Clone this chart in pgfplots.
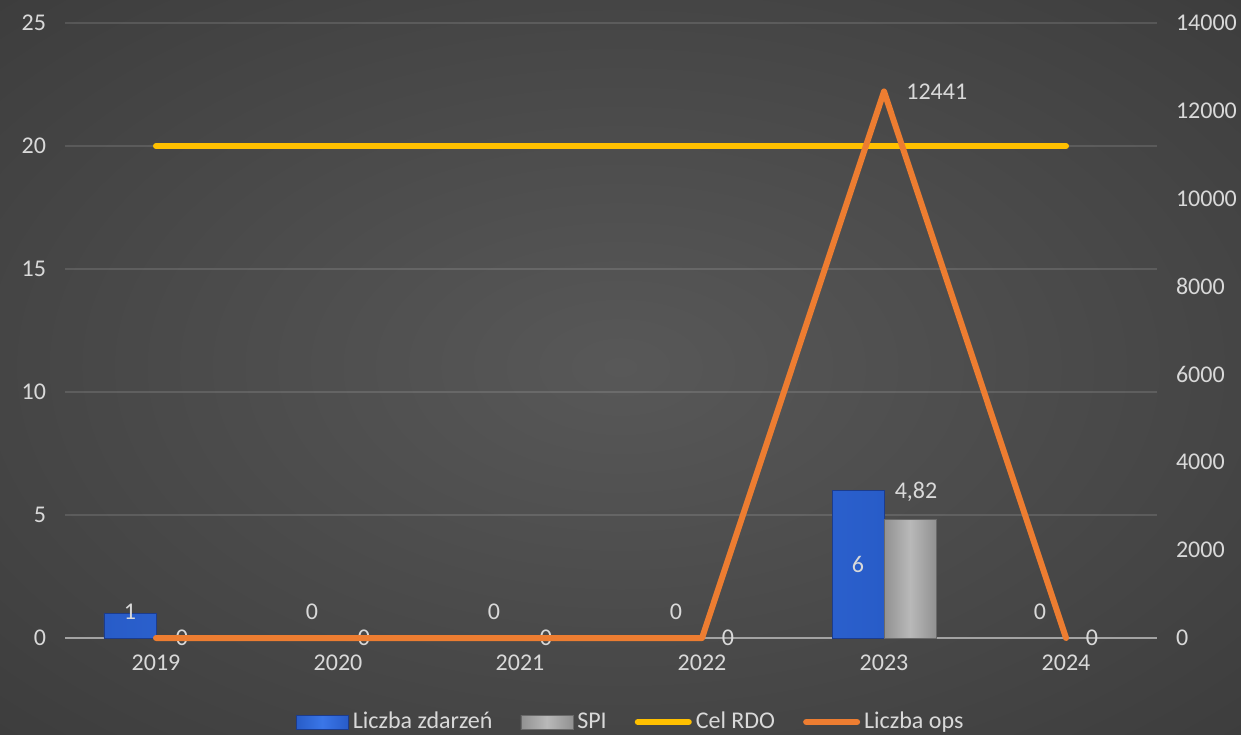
\documentclass[border=0pt]{standalone}
\usepackage{pgfplots}
\pgfplotsset{compat=1.18}
\usepackage{fontspec}
\setmainfont{Carlito}
\definecolor{bgin}{RGB}{88,88,88}
\definecolor{bgout}{RGB}{34,34,34}
\definecolor{lbl}{RGB}{217,217,217}
\definecolor{barblue}{RGB}{58,118,232}
\definecolor{barblueE}{RGB}{40,92,200}
\definecolor{barblueD}{RGB}{28,60,140}
\definecolor{bargrey}{RGB}{185,185,185}
\definecolor{bargreyE}{RGB}{145,145,145}
\definecolor{bargreyD}{RGB}{105,105,105}
\definecolor{rdo}{RGB}{255,192,0}
\definecolor{ops}{RGB}{237,125,49}
\pgfdeclareradialshading{bgshade}{\pgfpoint{0bp}{0bp}}{color(0bp)=(bgin); color(71bp)=(bgout)}
\begin{document}
\begin{tikzpicture}
\shade[shading=bgshade] (0pt,0pt) rectangle (620.5pt,367pt);
\begin{axis}[
  scale only axis, width=546pt, height=307.5pt,
  at={(32.5pt,48pt)}, anchor=south west,
  xmin=-0.5, xmax=5.5, ymin=0, ymax=25,
  xtick={0,...,5}, xticklabels={2019,2020,2021,2022,2023,2024},
  ytick={0,5,...,25},
  axis line style={draw=none},
  major tick length=0pt,
  ymajorgrids, grid style={white, opacity=0.12, line width=0.8pt},
  extra y ticks={0}, extra y tick labels={},
  extra y tick style={grid style={color=lbl!75!black, opacity=1, line width=0.9pt}},
  ticklabel style={font=\fontsize{12}{14}\selectfont, text=lbl},
  /pgf/number format/assume math mode=true,
  yticklabel style={xshift=-6pt},
  xticklabel style={yshift=-5pt},
  clip=false,
]
\addplot[ybar, bar width=26pt, bar shift=-13pt, draw=barblueD, left color=barblueE, right color=barblueE, middle color=barblue,
  y filter/.expression={y==0 ? nan : y}]
  coordinates {(0,1) (1,0) (2,0) (3,0) (4,6) (5,0)};
\addplot[ybar, bar width=26pt, bar shift=13pt, draw=bargreyD, left color=bargreyE, right color=bargreyE, middle color=bargrey,
  y filter/.expression={y==0 ? nan : y}]
  coordinates {(0,0) (1,0) (2,0) (3,0) (4,4.82) (5,0)};
\addplot[rdo, line width=3pt, line cap=round]
  coordinates {(0,20) (1,20) (2,20) (3,20) (4,20) (5,20)};
\addplot[draw=none, nodes near coords, point meta=explicit symbolic,
  every node near coord/.append style={anchor=center, font=\fontsize{12}{14}\selectfont, text=lbl}]
  table[meta=lab] {
x y lab
-0.143 1.06 1
0.857 1.06 0
1.857 1.06 0
2.857 1.06 0
3.857 3 6
4.857 1.06 0
0.143 0 0
1.143 0 0
2.143 0 0
3.143 0 0
4.176 5.93 4,82
5.143 0 0
};
\end{axis}
\begin{axis}[
  scale only axis, width=546pt, height=307.5pt,
  at={(32.5pt,48pt)}, anchor=south west,
  xmin=-0.5, xmax=5.5, ymin=0, ymax=14000,
  axis y line*=right, axis x line=none,
  ytick={0,2000,...,14000},
  scaled y ticks=false,
  axis line style={draw=none},
  major tick length=0pt,
  ticklabel style={font=\fontsize{12}{14}\selectfont, text=lbl},
  /pgf/number format/assume math mode=true,
  /pgf/number format/1000 sep={},
  /pgf/number format/fixed,
  yticklabel style={xshift=6pt},
  clip=false,
  legend style={at={(0.519,-0.1366)}, anchor=center, draw=none, fill=none,
    legend columns=4, font=\fontsize{12}{14}\selectfont, text=lbl,
    /tikz/every even column/.append style={column sep=12pt}},
  legend cell align=left,
]
\addlegendimage{legend image code/.code={\draw[draw=barblueD, left color=barblueE, right color=barblueE, middle color=barblue] (0pt,-3.5pt) rectangle (26pt,3.5pt);}}
\addlegendentry{Liczba zdarzeń}
\addlegendimage{legend image code/.code={\draw[draw=bargreyD, left color=bargreyE, right color=bargreyE, middle color=bargrey] (0pt,-3.5pt) rectangle (26pt,3.5pt);}}
\addlegendentry{SPI}
\addlegendimage{legend image code/.code={\draw[rdo, line width=3pt, line cap=round] (1.5pt,0pt) -- (27pt,0pt);}}
\addlegendentry{Cel RDO}
\addplot[ops, line width=3pt, line join=round, line cap=round,
  legend image code/.code={\draw[ops, line width=3pt, line cap=round] (1.5pt,0pt) -- (27pt,0pt);}]
  coordinates {(0,0) (1,0) (2,0) (3,0) (4,12441) (5,0)};
\addlegendentry{Liczba ops}
\addplot[forget plot, draw=none, nodes near coords, point meta=explicit symbolic,
  every node near coord/.append style={anchor=center, font=\fontsize{12}{14}\selectfont, text=lbl}]
  table[meta=lab] {
x y lab
4.29 12441 12441
};
\end{axis}
\pgfresetboundingbox
\path (0pt,0pt) rectangle (620.5pt,367pt);
\end{tikzpicture}
\end{document}
